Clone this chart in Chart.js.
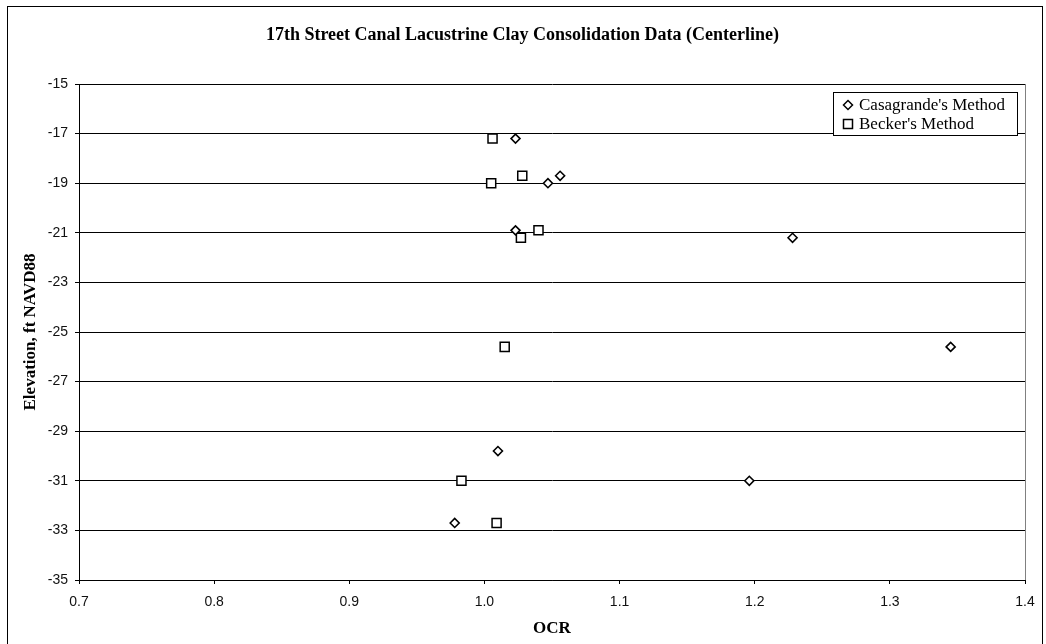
<!DOCTYPE html>
<html>
<head>
<meta charset="utf-8">
<script src="https://cdn.jsdelivr.net/npm/chart.js@4.4.1/dist/chart.umd.min.js"></script>
<style>
  html, body { margin: 0; padding: 0; background: #fff; }
  #wrap { width: 1046px; height: 644px; position: relative; }
</style>
</head>
<body>
<div id="wrap"><canvas id="c" width="1046" height="644"></canvas></div>
<script>
// Lacustrine clay consolidation results, 17th Street Canal centerline
const chartTitle = "17th Street Canal Lacustrine Clay Consolidation Data (Centerline)";
const xTitle = "OCR";
const yTitle = "Elevation, ft NAVD88";

const casagrandeOCR  = [1.023, 1.047, 1.056, 1.023, 1.228, 1.345, 1.010, 1.196, 0.978];
const casagrandeElev = [-17.2, -19.0, -18.7, -20.9, -21.2, -25.6, -29.8, -31.0, -32.7];

const beckerOCR  = [1.006, 1.005, 1.028, 1.027, 1.040, 1.015, 0.983, 1.009];
const beckerElev = [-17.2, -19.0, -18.7, -21.2, -20.9, -25.6, -31.0, -32.7];

const xTicks = [0.7, 0.8, 0.9, 1.0, 1.1, 1.2, 1.3, 1.4];
const yTicks = [-35, -33, -31, -29, -27, -25, -23, -21, -19, -17, -15];

const toPoints = (xs, ys) => xs.map((x, i) => ({ x: x, y: ys[i] }));

// Marker shapes shared by the plot and the legend box
function drawMarker(ctx, style, x, y) {
  ctx.save();
  ctx.fillStyle = '#fff';
  ctx.strokeStyle = '#000';
  ctx.lineWidth = 1.5;
  ctx.beginPath();
  if (style === 'rectRot') {
    const r = 4.5;
    ctx.moveTo(x, y - r); ctx.lineTo(x + r, y); ctx.lineTo(x, y + r); ctx.lineTo(x - r, y);
    ctx.closePath();
  } else {
    const h = 4.5;
    ctx.rect(x - h, y - h, 2 * h, 2 * h);
  }
  ctx.fill();
  ctx.stroke();
  ctx.restore();
}

// Outer frame, plot frame and the boxed legend
const framePlugin = {
  id: 'frame',
  beforeDraw(chart) {
    const ctx = chart.ctx;
    ctx.save();
    ctx.fillStyle = '#fff';
    ctx.fillRect(0, 0, chart.width, chart.height);
    ctx.strokeStyle = '#000';
    ctx.lineWidth = 1;
    ctx.strokeRect(7.5, 6.5, chart.width - 11, chart.height - 4);
    ctx.restore();
  },
  afterDatasetsDraw(chart) {
    const ctx = chart.ctx;
    const a = chart.chartArea;
    ctx.save();
    ctx.strokeStyle = '#808080';
    ctx.lineWidth = 1;
    ctx.beginPath();
    ctx.moveTo(Math.round(a.right) + 0.5, a.top);
    ctx.lineTo(Math.round(a.right) + 0.5, a.bottom);
    ctx.stroke();

    // legend box
    const bx = 833.5, by = 92.5, bw = 184, bh = 43;
    ctx.fillStyle = '#fff';
    ctx.fillRect(bx, by, bw, bh);
    ctx.strokeStyle = '#000';
    ctx.strokeRect(bx, by, bw, bh);
    ctx.font = '17px "Liberation Serif", "Times New Roman", serif';
    ctx.fillStyle = '#000';
    ctx.textBaseline = 'middle';
    chart.data.datasets.forEach((ds, i) => {
      const cy = 105 + i * 19;
      drawMarker(ctx, ds.pointStyle, 848, cy);
      ctx.fillText(ds.label, 859, cy + 1);
    });
    ctx.restore();
  }
};

new Chart(document.getElementById('c'), {
  type: 'scatter',
  data: {
    datasets: [
      {
        label: "Casagrande's Method",
        data: toPoints(casagrandeOCR, casagrandeElev),
        pointStyle: 'rectRot',
        pointRadius: 4.5,
        pointBorderWidth: 1.6,
        borderColor: '#000',
        backgroundColor: '#fff'
      },
      {
        label: "Becker's Method",
        data: toPoints(beckerOCR, beckerElev),
        pointStyle: 'rect',
        pointRadius: 6.4,
        pointBorderWidth: 1.5,
        borderColor: '#000',
        backgroundColor: '#fff'
      }
    ]
  },
  options: {
    responsive: false,
    animation: false,
    layout: { padding: { left: 20, right: 21, top: 6, bottom: 0 } },
    plugins: {
      legend: { display: false },
      tooltip: { enabled: false },
      title: {
        display: true,
        text: chartTitle,
        color: '#000',
        font: { family: '"Liberation Serif", "Times New Roman", serif', size: 18, weight: 'bold' },
        padding: { top: 18.2, bottom: 38.2 }
      }
    },
    scales: {
      x: {
        type: 'linear',
        min: xTicks[0],
        max: xTicks[xTicks.length - 1],
        afterFit(scale) { scale.height = 64; },
        afterBuildTicks(scale) { scale.ticks = xTicks.map(v => ({ value: v })); },
        ticks: {
          color: '#111',
          font: { family: '"Liberation Sans", Arial, sans-serif', size: 14 },
          padding: 10,
          maxRotation: 0,
          callback: v => Number(v).toFixed(1)
        },
        grid: { display: true, drawOnChartArea: false, drawTicks: true, tickLength: 4, color: '#000' },
        border: { display: true, color: '#000', width: 1 },
        title: {
          display: true,
          text: xTitle,
          color: '#000',
          font: { family: '"Liberation Serif", "Times New Roman", serif', size: 17, weight: 'bold' },
          padding: { top: 0, bottom: 4.8 }
        }
      },
      y: {
        type: 'linear',
        min: yTicks[0],
        max: yTicks[yTicks.length - 1],
        afterFit(scale) { scale.width = 59; },
        afterBuildTicks(scale) { scale.ticks = yTicks.map(v => ({ value: v })); },
        ticks: {
          color: '#111',
          font: { family: '"Liberation Sans", Arial, sans-serif', size: 14 },
          padding: 7,
          callback: v => String(v)
        },
        grid: { color: '#000', lineWidth: 1, tickLength: 4, drawTicks: true },
        border: { display: true, color: '#000', width: 1 },
        title: {
          display: true,
          text: yTitle,
          color: '#000',
          font: { family: '"Liberation Serif", "Times New Roman", serif', size: 17, weight: 'bold' },
          padding: { top: 0, bottom: 0 }
        }
      }
    }
  },
  plugins: [framePlugin]
});
</script>
</body>
</html>
